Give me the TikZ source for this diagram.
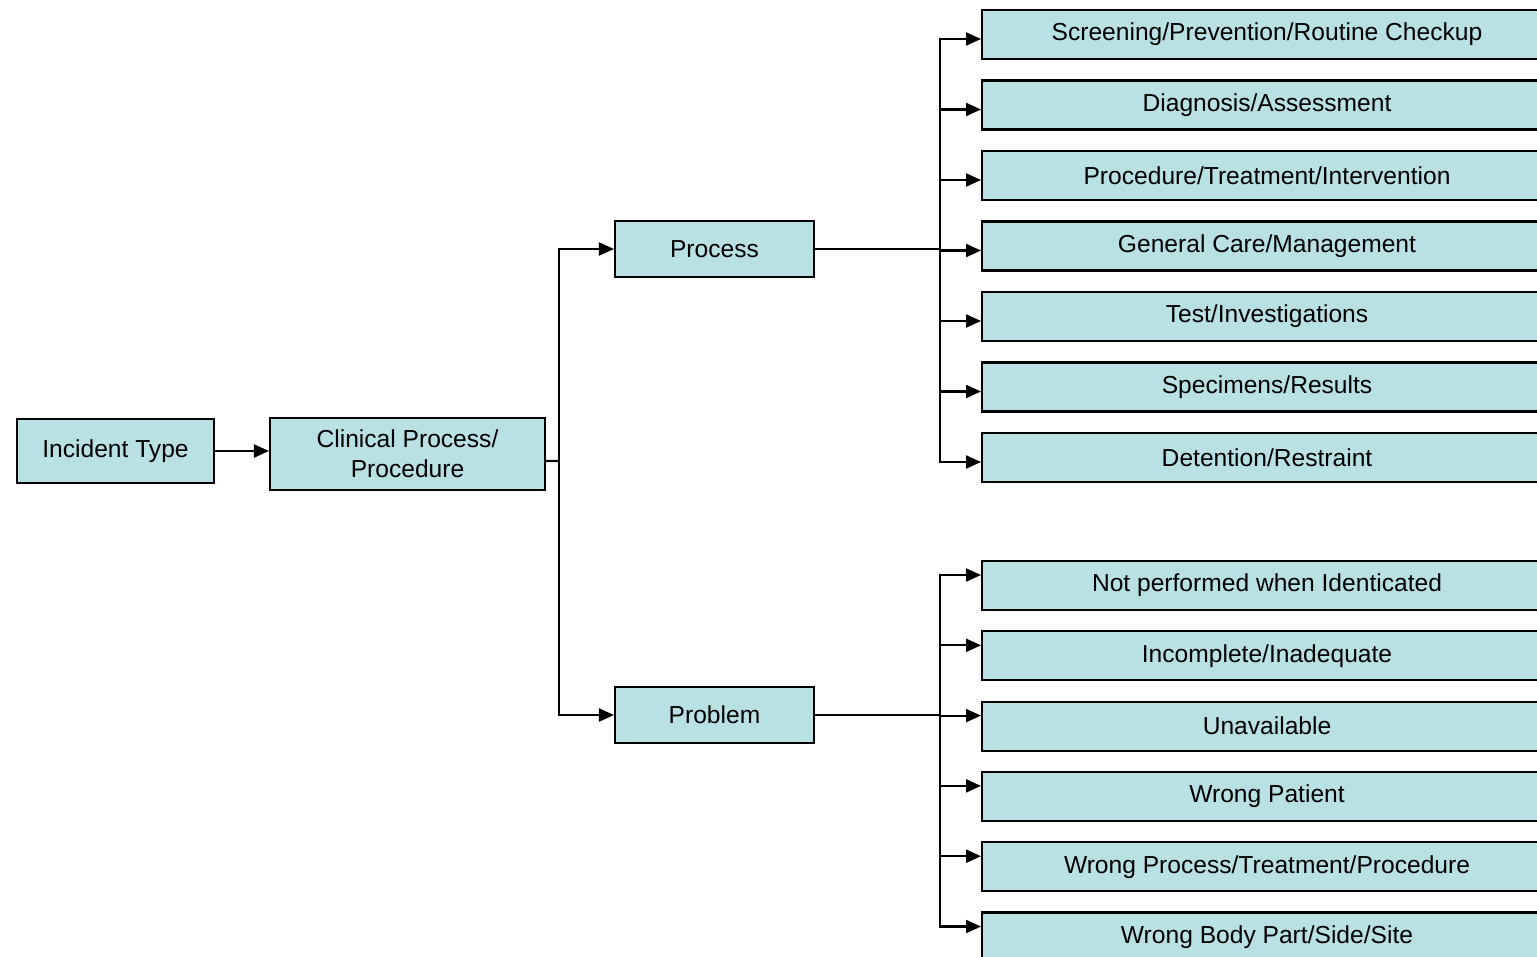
\documentclass[tikz,border=0pt]{standalone}
\usepackage{fontspec}
\setmainfont{Liberation Sans}
\usetikzlibrary{arrows.meta}
\definecolor{boxfill}{RGB}{185,224,227}

\begin{document}
\begin{tikzpicture}[x=0.02cm, y=-0.02cm,
  box/.style={draw, line width=1.2pt, fill=boxfill, inner sep=0pt,
    font=\fontsize{14}{17}\selectfont, align=center},
  leaf/.style={box, minimum width=11.4cm, minimum height=0.98cm},
  line/.style={line width=1.2pt},
  arr/.style={line width=1.2pt, -{Triangle[length=0.3cm, width=0.26cm]}}]
\useasboundingbox (0,0) rectangle (1537,956);
\clip (0,0) rectangle (1537,956);

% left part
\node [box, minimum width=3.94cm, minimum height=1.28cm] (incident) at (115.5,451) {Incident Type};
\node [box, minimum width=5.5cm, minimum height=1.44cm] (clinical) at (407.5,454) {Clinical Process/\\Procedure};
\node [box, minimum width=3.98cm, minimum height=1.12cm] (process) at (714.5,249) {Process};
\node [box, minimum width=3.98cm, minimum height=1.12cm] (problem) at (714.5,715) {Problem};

\draw [arr] (incident.east) -- (incident.east -| clinical.west);

\coordinate (cjoin) at (559,461);
\draw [line] ([yshift=-0.14cm]clinical.east) -- (cjoin);
\draw [arr] (cjoin) |- (process.west);
\draw [arr] (cjoin) |- (problem.west);

% process list
\coordinate (pjoin) at (940,249);
\draw [line] (process.east) -- (pjoin);
\foreach \txt [count=\i] in {Screening/Prevention/Routine Checkup, Diagnosis/Assessment,
  Procedure/Treatment/Intervention, General Care/Management, Test/Investigations,
  Specimens/Results, Detention/Restraint}
{
  \node [leaf] (p\i) at (1267,{34.5+70.5*(\i-1)}) {\txt};
  \draw [arr] (pjoin) |- ([yshift=-0.09cm]p\i.west);
}

% problem list
\coordinate (qjoin) at (940,715);
\draw [line] (problem.east) -- (qjoin);
\foreach \txt [count=\i] in {Not performed when Identicated, Incomplete/Inadequate,
  Unavailable, Wrong Patient, Wrong Process/Treatment/Procedure,
  Wrong Body Part/Side/Site}
{
  \node [leaf] (q\i) at (1267,{585.5+70.3*(\i-1)}) {\txt};
  \draw [arr] (qjoin) |- ([yshift=0.21cm]q\i.west);
}

\end{tikzpicture}
\end{document}
